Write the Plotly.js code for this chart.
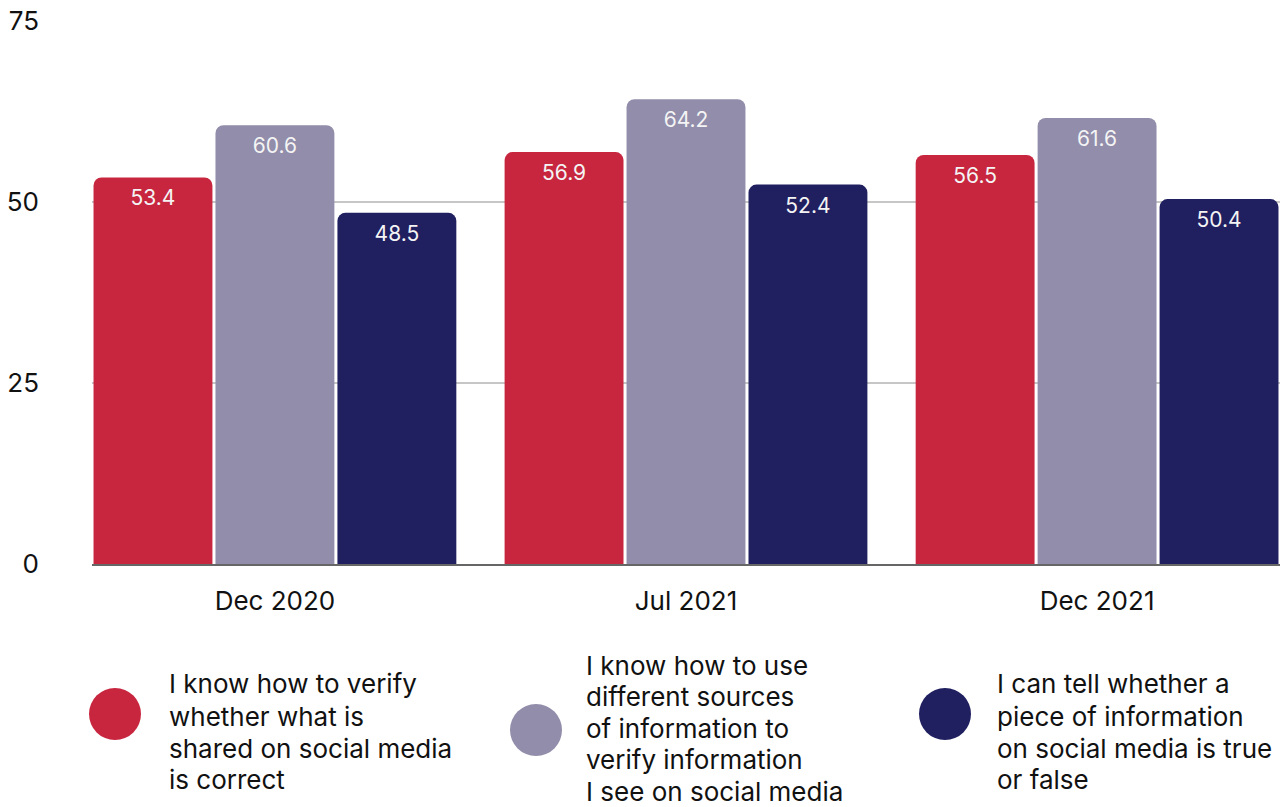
<!DOCTYPE html>
<html>
<head>
<meta charset="utf-8">
<script src="https://cdn.plot.ly/plotly-3.0.1.min.js"></script>
<style>html,body{margin:0;padding:0;background:#fff;}#chart{width:1288px;height:807px;}</style>
</head>
<body>
<div id="chart"></div>
<script>
const categories = ["Dec 2020", "Jul 2021", "Dec 2021"];
const seriesNames = [
  "I know how to verify<br>whether what is<br>shared on social media<br>is correct",
  "I know how to use<br>different sources<br>of information to<br>verify information<br>I see on social media",
  "I can tell whether a<br>piece of information<br>on social media is true<br>or false"
];
const verifyShared = [53.4, 56.9, 56.5];
const differentSources = [60.6, 64.2, 61.6];
const tellTrueFalse = [48.5, 52.4, 50.4];
const colors = ["#C8263F", "#918DAA", "#201F60"];
const yTicks = [0, 25, 50, 75];

const seriesValues = [verifyShared, differentSources, tellTrueFalse];
const FONT = "Inter, 'Noto Sans', sans-serif";

const traces = seriesValues.map((vals, i) => ({
  type: "bar",
  x: categories,
  y: vals,
  name: seriesNames[i].replace(/<br>/g, " "),
  marker: {color: colors[i], cornerradius: 8},
  text: vals.map(v => v.toFixed(1)),
  textposition: "inside",
  insidetextanchor: "end",
  textangle: 0,
  insidetextfont: {family: FONT, size: 21, color: "#f4f4f4"},
  hoverinfo: "skip",
  showlegend: false
}));

const L = 92, R = 1280, T = 21, B = 564, W = 1288, H = 807;
const px2x = p => (p - L) / (R - L);
const py2y = p => (B - p) / (B - T);

const legendItems = [
  {cx: 115, cy: 714, tx: 168, ty0: 684, lh: 32},
  {cx: 536, cy: 730, tx: 585, ty0: 665, lh: 31.5},
  {cx: 945, cy: 714, tx: 996, ty0: 684, lh: 32}
];

const shapes = legendItems.map((it, i) => ({
  type: "circle",
  xref: "paper", yref: "paper",
  xsizemode: "pixel", ysizemode: "pixel",
  xanchor: px2x(it.cx), yanchor: py2y(it.cy),
  x0: -26, x1: 26, y0: -26, y1: 26,
  fillcolor: colors[i],
  line: {width: 0}
}));

const annotations = [];
legendItems.forEach((it, i) => {
  seriesNames[i].split("<br>").forEach((line, k) => {
    annotations.push({
      xref: "paper", yref: "paper",
      x: px2x(it.tx), y: py2y(it.ty0 + k * it.lh),
      xanchor: "left", yanchor: "middle",
      align: "left",
      showarrow: false,
      borderpad: 0,
      text: line,
      font: {family: FONT, size: 26, color: "#111"}
    });
  });
});

const layout = {
  width: W, height: H,
  margin: {l: L, r: W - R, t: T, b: H - B, pad: 0},
  paper_bgcolor: "#fff",
  plot_bgcolor: "#fff",
  barmode: "group",
  bargap: 0.11,
  bargroupgap: 0.025,
  showlegend: false,
  xaxis: {
    type: "category",
    range: [-0.445, 2.445],
    showgrid: false,
    showline: true,
    linecolor: "#666",
    linewidth: 2,
    ticks: "",
    ticklabelstandoff: 13,
    tickfont: {family: FONT, size: 26, color: "#111"},
    fixedrange: true
  },
  yaxis: {
    range: [0, 75],
    tickvals: yTicks,
    ticktext: yTicks.map(String),
    showgrid: true,
    gridcolor: "#c6c6c6",
    gridwidth: 1.5,
    zeroline: false,
    showline: false,
    ticks: "",
    ticklabelstandoff: 52,
    tickfont: {family: FONT, size: 26, color: "#111"},
    fixedrange: true
  },
  shapes: shapes,
  annotations: annotations,
  font: {family: FONT}
};

Plotly.newPlot("chart", traces, layout, {displayModeBar: false, staticPlot: true});
</script>
</body>
</html>
